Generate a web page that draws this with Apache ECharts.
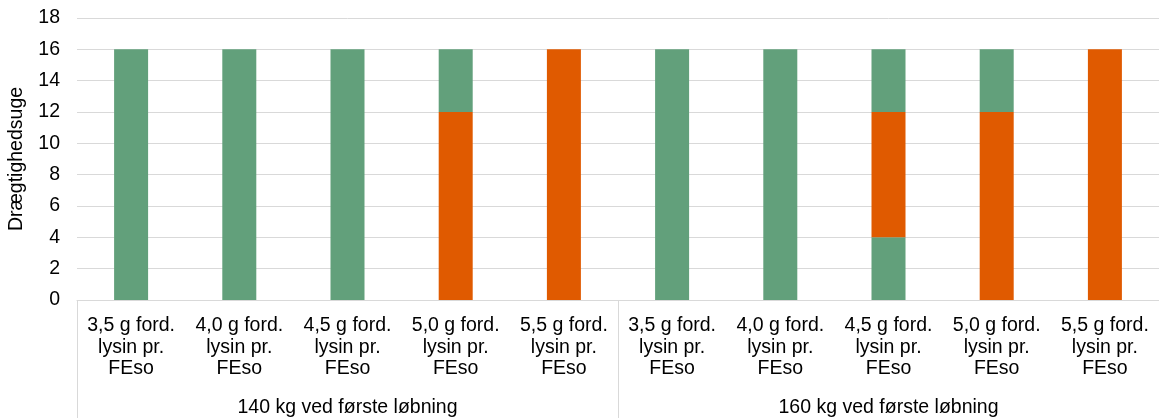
<!DOCTYPE html>
<html>
<head>
<meta charset="UTF-8">
<title>Drægtighedsuge</title>
<script src="https://cdn.jsdelivr.net/npm/echarts@6/dist/echarts.min.js"></script>
<style>
  html, body { margin: 0; padding: 0; background: #fff; }
  #chart { width: 1159px; height: 418px; }
</style>
</head>
<body>
<div id="chart"></div>
<script>
var categories = [
  '3,5 g ford.\nlysin pr.\nFEso', '4,0 g ford.\nlysin pr.\nFEso', '4,5 g ford.\nlysin pr.\nFEso',
  '5,0 g ford.\nlysin pr.\nFEso', '5,5 g ford.\nlysin pr.\nFEso',
  '3,5 g ford.\nlysin pr.\nFEso', '4,0 g ford.\nlysin pr.\nFEso', '4,5 g ford.\nlysin pr.\nFEso',
  '5,0 g ford.\nlysin pr.\nFEso', '5,5 g ford.\nlysin pr.\nFEso'
];
var groups = ['140 kg ved første løbning', '160 kg ved første løbning'];
// uger i stak: grøn nederst, orange i midten, grøn øverst
var greenLow  = [16, 16, 16, 0, 0, 16, 16, 4, 0, 0];
var orangeMid = [0, 0, 0, 12, 16, 0, 0, 8, 12, 16];
var greenTop  = [0, 0, 0, 4, 0, 0, 0, 4, 4, 0];

var GREEN = '#62a07b';
var ORANGE = '#e05a00';
var font = 'Liberation Sans, Arial, sans-serif';
var fs = 19.5;

var myChart = echarts.init(document.getElementById('chart'));
var option = {
  animation: false,
  textStyle: { fontFamily: font },
  grid: { left: 77, right: 0, top: 18, bottom: 118, containLabel: false, outerBoundsMode: 'none' },
  xAxis: [
    {
      type: 'category',
      data: categories,
      axisLine: { lineStyle: { color: '#d9d9d9', width: 1 } },
      axisTick: { show: false },
      axisLabel: { color: '#000', fontSize: fs, lineHeight: 21.5, margin: 15, interval: 0, fontFamily: font }
    },
    {
      type: 'category',
      position: 'bottom',
      data: groups,
      axisLine: { show: false },
      axisTick: { show: true, length: 118, lineStyle: { color: '#d9d9d9' } },
      axisLabel: { color: '#000', fontSize: fs, margin: 98, fontFamily: font },
      splitLine: { show: false }
    }
  ],
  yAxis: {
    type: 'value',
    min: 0, max: 18, interval: 2,
    name: 'Drægtighedsuge',
    nameLocation: 'middle',
    nameGap: 50,
    nameTextStyle: { color: '#000', fontSize: fs, fontFamily: font },
    axisLine: { show: false },
    axisTick: { show: false },
    axisLabel: { color: '#000', fontSize: fs, margin: 17, fontFamily: font },
    splitLine: { lineStyle: { color: '#d9d9d9', width: 1 } }
  },
  series: [
    { name: 'a', type: 'bar', stack: 'u', data: greenLow, barWidth: 34, itemStyle: { color: GREEN } },
    { name: 'b', type: 'bar', stack: 'u', data: orangeMid, barWidth: 34, itemStyle: { color: ORANGE } },
    { name: 'c', type: 'bar', stack: 'u', data: greenTop, barWidth: 34, itemStyle: { color: GREEN } }
  ]
};
myChart.setOption(option);
</script>
</body>
</html>
